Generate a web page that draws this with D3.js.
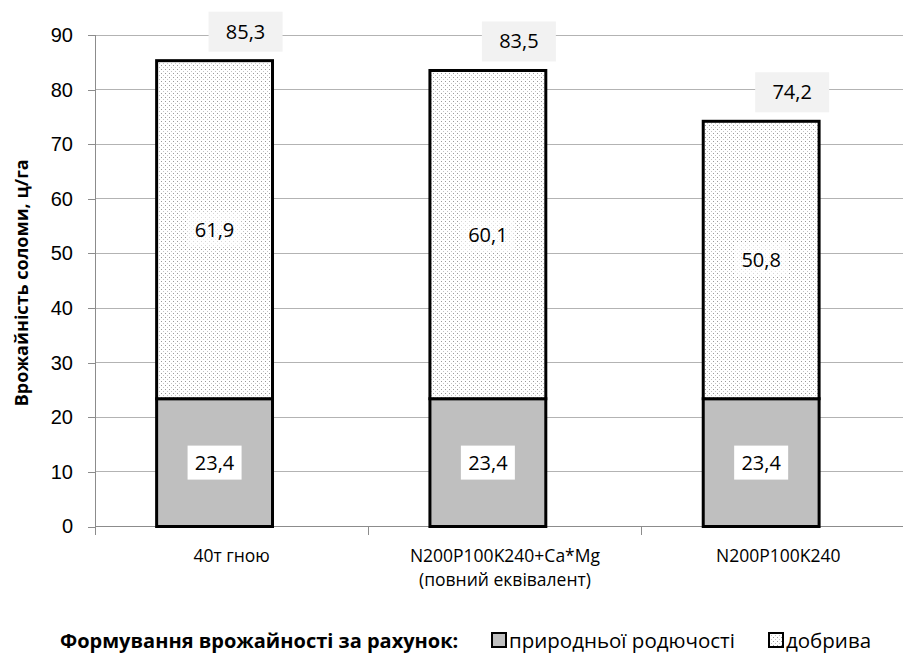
<!DOCTYPE html>
<html>
<head>
<meta charset="utf-8">
<script src="https://cdn.jsdelivr.net/npm/d3@7"></script>
<style>
  html, body { margin: 0; padding: 0; background: #fff; }
  svg { display: block; font-family: "Open Sans", "Noto Sans", sans-serif; }
</style>
</head>
<body>
<div id="chart"></div>
<script>
// Straw yield by fertilization variant, split into soil-fertility and fertilizer parts
const categories = ["40т гною", "N200P100K240+Ca*Mg", "N200P100K240"];
const categorySubLabels = ["", "(повний еквівалент)", ""];
const naturalPart = [23.4, 23.4, 23.4];       // природньої родючості
const fertilizerPart = [61.9, 60.1, 50.8];    // добрива
const totals = [85.3, 83.5, 74.2];
const yTicks = [0, 10, 20, 30, 40, 50, 60, 70, 80, 90];
const legendTitle = "Формування врожайності за рахунок:";
const seriesNames = ["природньої родючості", "добрива"];
const yTitle = "Врожайність соломи, ц/га";

const W = 903, H = 654;
const plotLeft = 95, plotBottom = 526.5, plotTop = 35;
const bandW = 273.3;

const svg = d3.select("#chart").append("svg")
  .attr("width", W).attr("height", H);

const defs = svg.append("defs");
const pat = defs.append("pattern")
  .attr("id", "dots").attr("patternUnits", "userSpaceOnUse")
  .attr("width", 4).attr("height", 4);
pat.append("rect").attr("width", 4).attr("height", 4).attr("fill", "#fff");
pat.append("rect").attr("x", 1).attr("y", 1).attr("width", 1).attr("height", 1).attr("fill", "#9a9a9a");
pat.append("rect").attr("x", 3).attr("y", 3).attr("width", 1).attr("height", 1).attr("fill", "#c4c4c4");

const x = d3.scaleBand()
  .domain(categories)
  .range([plotLeft, plotLeft + bandW * categories.length])
  .paddingInner(0).paddingOuter(0);

const y = d3.scaleLinear().domain([0, 90]).range([plotBottom, plotTop]);

// Gridlines
svg.append("g")
  .selectAll("line").data(yTicks.filter(d => d > 0)).join("line")
  .attr("x1", plotLeft).attr("x2", W)
  .attr("y1", d => y(d)).attr("y2", d => y(d))
  .attr("stroke", "#b3b3b3").attr("stroke-width", 1)
  .attr("shape-rendering", "crispEdges");

// Y axis
const yAxis = svg.append("g")
  .attr("transform", `translate(${plotLeft},0)`)
  .call(d3.axisLeft(y).tickValues(yTicks).tickSize(7).tickPadding(15).tickFormat(d3.format("d")));
yAxis.select(".domain").remove();
yAxis.selectAll(".tick line").attr("stroke", "#8c8c8c").attr("shape-rendering", "crispEdges");
yAxis.selectAll(".tick text").attr("font-size", 20).attr("fill", "#000");
svg.append("line")
  .attr("x1", plotLeft).attr("x2", plotLeft)
  .attr("y1", plotTop).attr("y2", plotBottom + 8)
  .attr("stroke", "#8c8c8c").attr("shape-rendering", "crispEdges");

// X axis
svg.append("line")
  .attr("x1", plotLeft).attr("x2", W)
  .attr("y1", plotBottom).attr("y2", plotBottom)
  .attr("stroke", "#8c8c8c").attr("shape-rendering", "crispEdges");
svg.append("g").selectAll("line").data(categories.slice(1)).join("line")
  .attr("x1", d => x(d)).attr("x2", d => x(d))
  .attr("y1", plotBottom).attr("y2", plotBottom + 8)
  .attr("stroke", "#8c8c8c").attr("shape-rendering", "crispEdges");

const catG = svg.append("g").selectAll("text").data(categories).join("text")
  .attr("x", d => x(d) + x.bandwidth() / 2)
  .attr("y", 562)
  .attr("text-anchor", "middle")
  .attr("font-size", 17.5)
  .attr("fill", "#000");
catG.append("tspan").text(d => d);
catG.append("tspan")
  .attr("x", d => x(d) + x.bandwidth() / 2)
  .attr("dy", 24)
  .text((d, i) => categorySubLabels[i]);

// Y axis title
svg.append("text")
  .attr("transform", `translate(28,${(plotTop + plotBottom) / 2 + 2}) rotate(-90)`)
  .attr("text-anchor", "middle")
  .attr("font-size", 18).attr("font-weight", "bold")
  .text(yTitle);

// Bars
const barOffset = 0.2255 * x.bandwidth();
const barW = 0.424 * x.bandwidth();
const bx = i => x(categories[i]) + barOffset;

const bars = svg.append("g");
bars.selectAll("rect.nat").data(naturalPart).join("rect")
  .attr("class", "nat")
  .attr("x", (d, i) => bx(i)).attr("width", barW)
  .attr("y", d => y(d)).attr("height", d => y(0) - y(d))
  .attr("fill", "#bfbfbf").attr("stroke", "#000").attr("stroke-width", 3);
bars.selectAll("rect.fert").data(fertilizerPart).join("rect")
  .attr("class", "fert")
  .attr("x", (d, i) => bx(i)).attr("width", barW)
  .attr("y", (d, i) => y(naturalPart[i] + d))
  .attr("height", (d, i) => y(naturalPart[i]) - y(naturalPart[i] + d))
  .attr("fill", "url(#dots)").attr("stroke", "#000").attr("stroke-width", 3);

const fmt = v => d3.format(".1f")(v).replace(".", ",");

function boxLabel(g, cx, cy, txt, w, h, fill, opacity) {
  g.append("rect")
    .attr("x", cx - w / 2).attr("y", cy - h / 2)
    .attr("width", w).attr("height", h)
    .attr("fill", fill).attr("fill-opacity", opacity);
  g.append("text")
    .attr("x", cx).attr("y", cy)
    .attr("dy", "0.35em")
    .attr("text-anchor", "middle")
    .attr("font-size", 20).attr("fill", "#000")
    .text(txt);
}

const labels = svg.append("g");
naturalPart.forEach((v, i) => {
  boxLabel(labels, bx(i) + barW / 2, y(v / 2), fmt(v), 54, 34, "#fff", 1);
});
fertilizerPart.forEach((v, i) => {
  boxLabel(labels, bx(i) + barW / 2, y(naturalPart[i] + v / 2), fmt(v), 54, 34, "#fff", 0.6);
});
totals.forEach((v, i) => {
  boxLabel(labels, bx(i) + barW / 2 + 31, y(v) - 29, fmt(v), 74, 40, "#f2f2f2", 1);
});

// Legend
const lg = svg.append("g");
lg.append("text")
  .attr("x", 60).attr("y", 648)
  .attr("font-size", 20).attr("font-weight", "bold")
  .text(legendTitle);
const legendItems = [
  { name: seriesNames[0], fill: "#bfbfbf", x: 492 },
  { name: seriesNames[1], fill: "url(#dots)", x: 769 }
];
legendItems.forEach(it => {
  lg.append("rect")
    .attr("x", it.x).attr("y", 633).attr("width", 14).attr("height", 14)
    .attr("fill", it.fill).attr("stroke", "#000").attr("stroke-width", 2);
  lg.append("text")
    .attr("x", it.x + 17).attr("y", 648)
    .attr("font-size", 20.5)
    .text(it.name);
});
</script>
</body>
</html>
